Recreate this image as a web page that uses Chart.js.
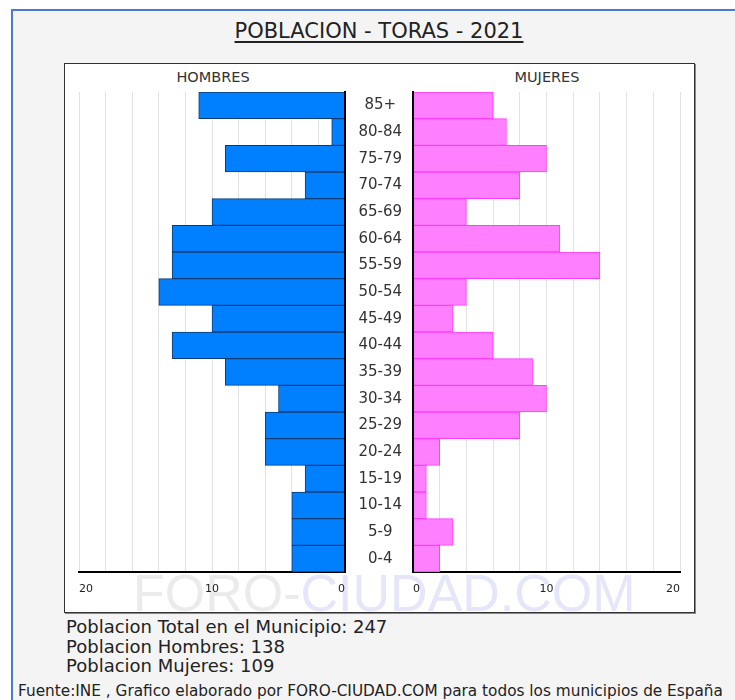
<!DOCTYPE html>
<html><head><meta charset="utf-8">
<script src="https://cdn.jsdelivr.net/npm/chart.js"></script>
<style>
html,body{margin:0;padding:0;background:#fff;width:735px;height:700px;overflow:hidden;font-family:"DejaVu Sans",Verdana,sans-serif;}
#frame{position:absolute;left:11px;top:9px;width:760px;height:720px;background:#f4f4f4;border-left:2px solid #4a7bd0;border-top:2px solid #4a7bd0;}
#title{position:absolute;left:0;top:19px;width:758px;text-align:center;font-size:21px;line-height:24px;color:#222;}
#title span{text-decoration:underline;text-decoration-thickness:2px;text-underline-offset:3px;}
#box{position:absolute;left:64px;top:63px;width:629px;height:548px;border:1px solid #333;background:#fff;box-shadow:1px 1px 0 #888;}
.wm{position:absolute;left:68px;top:503px;font-family:"Liberation Sans",Arial,sans-serif;font-size:52px;line-height:52px;white-space:nowrap;}
.side{position:absolute;top:6px;width:200px;text-align:center;font-size:14.5px;line-height:14px;color:#333;}
canvas{position:absolute;left:0;top:0;}
#stats{position:absolute;left:66px;top:617px;font-size:18px;line-height:19.5px;color:#222;white-space:nowrap;}
#foot{position:absolute;left:18px;top:682px;font-size:15.3px;line-height:18px;color:#222;white-space:nowrap;}
</style></head>
<body>
<div id="frame"></div>
<div id="title"><span>POBLACION - TORAS - 2021</span></div>
<div id="box">
  <div class="wm"><span style="color:#ebebeb">FORO-</span><span style="color:#e6e6fb">CIUDAD.COM</span></div>
  <div class="side" style="left:48px">HOMBRES</div>
  <div class="side" style="left:382px">MUJERES</div>
  <canvas id="men" width="629" height="548"></canvas>
  <canvas id="women" width="629" height="548"></canvas>
</div>
<div id="stats">Poblacion Total en el Municipio: 247<br>Poblacion Hombres: 138<br>Poblacion Mujeres: 109</div>
<div id="foot">Fuente:INE , Grafico elaborado por FORO-CIUDAD.COM para todos los municipios de España</div>
<script>
const ageGroups = ['85+','80-84','75-79','70-74','65-69','60-64','55-59','50-54','45-49','40-44','35-39','30-34','25-29','20-24','15-19','10-14','5-9','0-4'];
const hombres = [11,1,9,3,10,13,13,14,10,13,9,5,6,6,3,4,4,4];
const mujeres = [6,7,10,8,4,11,14,4,3,6,9,10,8,2,1,1,3,2];
const axisMax = 20;
const tickStep = 2;
const labelStep = 10;

const tickFont = {family:'"DejaVu Sans", Verdana, sans-serif', size:11};
function tickAxis(min, max){
  return {
    type:'linear', min:min, max:max, position:'bottom',
    ticks:{stepSize:tickStep, autoSkip:false, maxRotation:0, align:'inner', color:'#222', font:tickFont, padding:11,
      callback:v => (v % labelStep === 0 ? String(Math.abs(v)) : '')},
    grid:{color:'#e2e2e2', lineWidth:1, drawTicks:false},
    border:{color:'#000', width:2},
    afterFit:s => { s.height = 40; }
  };
}
const common = {
  responsive:false, animation:false, indexAxis:'y',
  plugins:{legend:{display:false}, tooltip:{enabled:false}, title:{display:false}},
};
new Chart(document.getElementById('men'), {
  type:'bar',
  data:{labels:ageGroups, datasets:[{data:hombres, xAxisID:'x', backgroundColor:'#0080ff', borderColor:'#0b3c74', borderWidth:1, barPercentage:1, categoryPercentage:1}]},
  options:Object.assign({}, common, {
    layout:{padding:{left:14, right:349, top:28, bottom:0}},
    scales:{
      // value axis for the bars: grows leftwards from the centre
      x:{type:'linear', min:0, max:axisMax, reverse:true, display:false},
      // visible axis with ticks/grid, same span read outward from the centre
      xt:tickAxis(-axisMax, 0),
      y:{type:'category', position:'right', ticks:{display:false}, grid:{display:false},
         border:{color:'#000', width:2, z:1}, afterFit:s => { s.width = 0; }}
    }
  })
});
new Chart(document.getElementById('women'), {
  type:'bar',
  data:{labels:ageGroups, datasets:[{data:mujeres, xAxisID:'x', backgroundColor:'#ff80ff', borderColor:'#ff3cff', borderWidth:1, barPercentage:1, categoryPercentage:1}]},
  options:Object.assign({}, common, {
    layout:{padding:{left:280, right:14, top:28, bottom:0}},
    scales:{
      x:tickAxis(0, axisMax),
      y:{type:'category', position:'left', grid:{display:false},
         ticks:{crossAlign:'center', padding:3, color:'#333', font:{family:'"DejaVu Sans", Verdana, sans-serif', size:15}},
         border:{color:'#000', width:2, z:1}, afterFit:s => { s.width = 68; }}
    }
  })
});
</script>
</body></html>
